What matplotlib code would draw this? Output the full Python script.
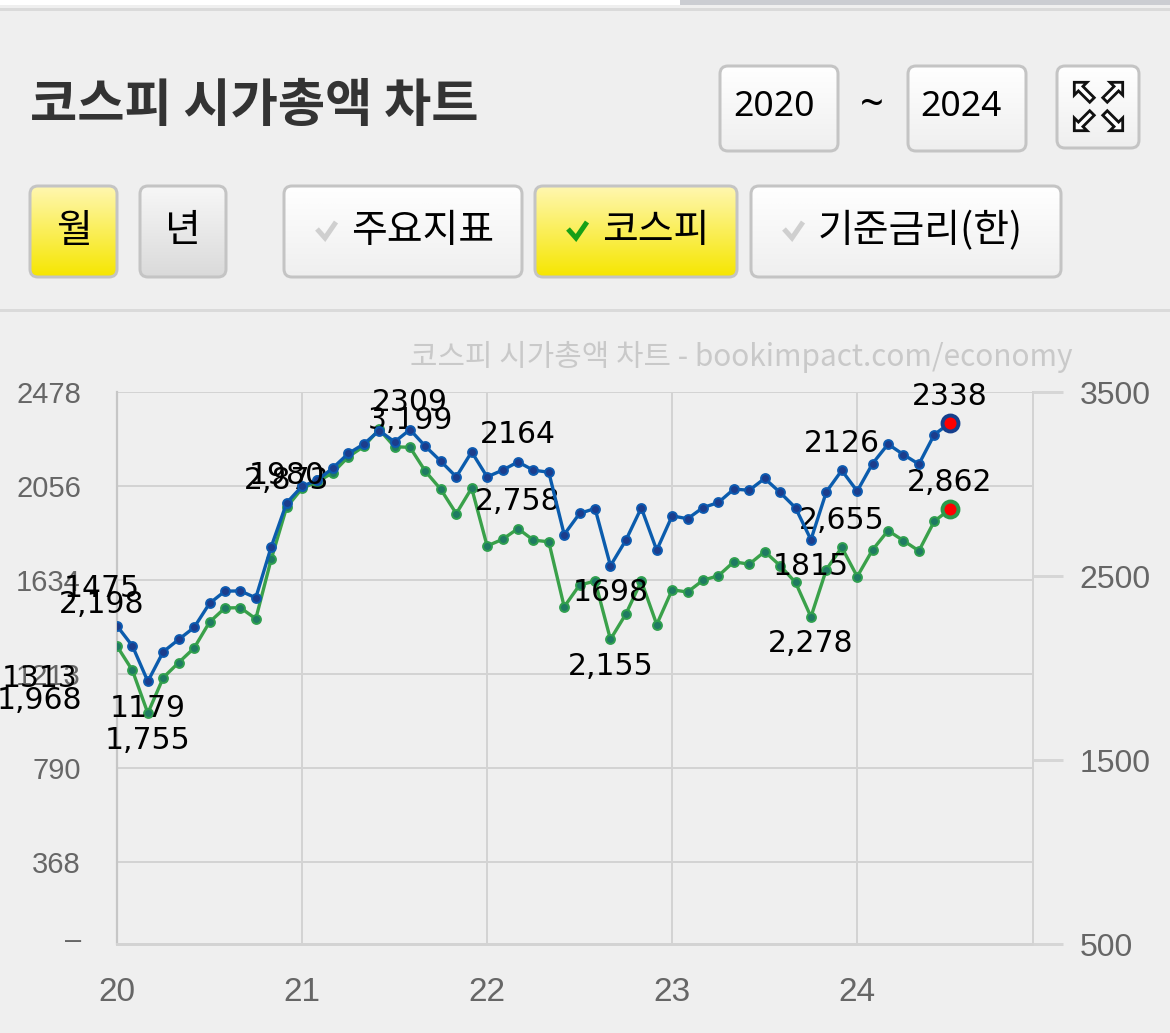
import numpy as np
import matplotlib
matplotlib.use('Agg')
import matplotlib.pyplot as plt
from matplotlib.patches import FancyBboxPatch, Rectangle, Polygon
from matplotlib.colors import to_rgb

# ---------------- data ----------------
year_labels = ['20', '21', '22', '23', '24']
year_ticks = [0, 12, 24, 36, 48]

# 시가총액 (조원), monthly 2020-01 .. 2024-07
cap = [1428, 1338, 1179, 1312, 1367, 1421, 1529, 1584, 1585, 1554, 1783, 1980,
       2055, 2082, 2137, 2202, 2244, 2305, 2254, 2309, 2234, 2167, 2097, 2209,
       2097, 2127, 2164, 2127, 2118, 1838, 1933, 1955, 1698, 1813, 1958, 1768,
       1922, 1909, 1959, 1982, 2042, 2037, 2090, 2027, 1958, 1815, 2030, 2126,
       2033, 2157, 2244, 2197, 2154, 2287, 2338]
# 코스피 지수
kospi = [2119.01, 1987.01, 1754.64, 1947.56, 2029.60, 2108.33, 2249.37, 2326.17, 2327.89, 2267.15, 2591.34, 2873.47,
         2976.21, 3012.95, 3061.42, 3147.86, 3203.92, 3296.68, 3202.32, 3199.27, 3068.82, 2970.68, 2839.01, 2977.65,
         2663.34, 2699.18, 2757.65, 2695.05, 2685.90, 2332.64, 2451.50, 2472.05, 2155.49, 2293.61, 2472.53, 2236.40,
         2425.08, 2412.85, 2476.86, 2501.53, 2577.12, 2564.28, 2632.58, 2556.27, 2465.07, 2277.99, 2535.29, 2655.28,
         2497.09, 2642.36, 2746.63, 2692.06, 2636.52, 2797.82, 2862]

left_ticks = [27, 368, 790, 1212, 1634, 2056, 2478]
left_ticklabels = ['–', '368', '790', '1213', '1634', '2056', '2478']
right_ticks = [500, 1500, 2500, 3500]

# yearly max/min labels (month index relative to 2020-01)
lab_months = [-5, -1, 2, 11, 19, 26, 32, 45, 47, 54]
lab_cap = [1313, 1475, 1179, 1980, 2309, 2164, 1698, 1815, 2126, 2338]
lab_kospi = [1968, 2198, 1755, 2873, 3199, 2758, 2155, 2278, 2655, 2862]
lab_kind = ['min', 'max', 'min', 'max', 'max', 'max', 'min', 'min', 'max', 'max']

title = '코스피 시가총액 차트'
watermark = '코스피 시가총액 차트 - bookimpact.com/economy'
period_buttons = ['월', '년']
series_buttons = ['주요지표', '코스피', '기준금리(한)']
year_from, year_to = '2020', '2024'

# ---------------- style ----------------
plt.rcParams['font.family'] = ['Liberation Sans', 'Noto Sans CJK KR', 'DejaVu Sans']
KR = ['Noto Sans CJK KR', 'DejaVu Sans']
BG = '#efefef'
W, H = 1170, 1033

fig = plt.figure(figsize=(W / 100, H / 100), dpi=100, facecolor=BG)
bg = fig.add_axes([0, 0, 1, 1])
bg.set_xlim(0, W)
bg.set_ylim(H, 0)
bg.axis('off')
bg.set_zorder(0)

PX = 0.72  # points per pixel


def gradient_box(x0, y0, x1, y1, top, bottom, edge='#c4c4c4', r=8, lw=3):
    patch = FancyBboxPatch((x0, y0), x1 - x0, y1 - y0,
                           boxstyle=f'round,pad=0,rounding_size={r}',
                           facecolor='none', edgecolor=edge, lw=lw * PX, zorder=3)
    bg.add_patch(patch)
    t = np.array(to_rgb(top))
    b = np.array(to_rgb(bottom))
    g = np.linspace(0, 1, 64)[:, None, None]
    img = t * (1 - g) + b * g
    img = np.repeat(img, 2, axis=1)
    im = bg.imshow(img, extent=(x0, x1, y1, y0), origin='upper', aspect='auto', zorder=2,
                   interpolation='bilinear')
    clip = FancyBboxPatch((x0, y0), x1 - x0, y1 - y0,
                          boxstyle=f'round,pad=0,rounding_size={r}',
                          facecolor='none', edgecolor='none', transform=bg.transData)
    im.set_clip_path(clip)
    return patch


# top strip
bg.add_patch(Rectangle((0, 0), W, 5, facecolor='white', edgecolor='none', zorder=1))
bg.add_patch(Rectangle((680, 0), W - 680, 5, facecolor='#cbcdd2', edgecolor='none', zorder=1))
bg.plot([0, W], [9, 9], color='#dadada', lw=3 * PX, zorder=1)
bg.plot([0, W], [310, 310], color='#dadada', lw=3 * PX, zorder=1)

# title
bg.text(30, 106, title, fontsize=37, fontweight='bold', color='#333333',
        ha='left', va='center', family=KR, zorder=4)

# year range boxes
WHITE_T, WHITE_B = '#ffffff', '#efefef'
YEL_T, YEL_B = '#fff7b0', '#f6e600'
GRAY_T, GRAY_B = '#f7f7f7', '#dadada'
gradient_box(720, 66, 838, 151, WHITE_T, WHITE_B)
bg.text(774, 107, year_from, fontsize=25.5, family=['Noto Sans', 'DejaVu Sans'], ha='center', va='center', zorder=4)
bg.text(872, 106, '~', fontsize=30, family=['Noto Sans', 'DejaVu Sans'], ha='center', va='center', zorder=4)
gradient_box(908, 66, 1026, 151, WHITE_T, WHITE_B)
bg.text(961, 107, year_to, fontsize=25.5, family=['Noto Sans', 'DejaVu Sans'], ha='center', va='center', zorder=4)
gradient_box(1057, 66, 1139, 148, WHITE_T, WHITE_B)

# expand icon: four outward arrows
shape = np.array([[0, -13], [-9, -4], [-3.2, -4], [-3.2, 12], [3.2, 12], [3.2, -4], [9, -4]])
cx, cy = 1098.5, 106.5
for dx, dy, ang in [(-15, -15, -45), (15, -15, 45), (-15, 15, -135), (15, 15, 135)]:
    th = np.deg2rad(ang)
    R = np.array([[np.cos(th), -np.sin(th)], [np.sin(th), np.cos(th)]])
    pts = shape @ R.T + np.array([cx + dx, cy + dy])
    bg.add_patch(Polygon(pts, closed=True, facecolor='white', edgecolor='#111111',
                         lw=2.8 * PX, joinstyle='miter', zorder=4))

# period buttons
gradient_box(30, 186, 117, 277, YEL_T, YEL_B)
bg.text(74, 231, period_buttons[0], fontsize=28, family=KR, ha='center', va='center', zorder=4)
gradient_box(140, 186, 226, 277, GRAY_T, GRAY_B)
bg.text(183, 231, period_buttons[1], fontsize=28, family=KR, ha='center', va='center', zorder=4)

# series buttons
btns = [(284, 522, WHITE_T, WHITE_B, '#cfcfcf'),
        (535, 737, YEL_T, YEL_B, '#17a017'),
        (751, 1061, WHITE_T, WHITE_B, '#cfcfcf')]
for (x0, x1, t, b, ck), label in zip(btns, series_buttons):
    gradient_box(x0, 186, x1, 277, t, b)
    bg.plot([x0 + 33, x0 + 41, x0 + 52], [229, 238, 222], color=ck, lw=5 * PX,
            solid_capstyle='butt', solid_joinstyle='miter', zorder=4)
    bg.text(x0 + 67, 231, label, fontsize=28, family=KR, ha='left', va='center', zorder=4)

# watermark
bg.text(741, 357, watermark, fontsize=21.5, family=KR, color='#c9c9c9',
        ha='center', va='center', zorder=4)

# ---------------- chart ----------------
rect = [117 / W, 1 - 944 / H, 916 / W, 552 / H]
ax = fig.add_axes(rect)
ax.set_zorder(1)
ax.set_facecolor('none')
ax.set_xlim(0, 59.4)
ax.set_ylim(0, 2478)
ax.set_yticks(left_ticks, left_ticklabels)
ax.set_xticks(year_ticks, year_labels)
ax.tick_params(axis='y', length=0, pad=26, labelsize=21, labelcolor='#666666')
ax.tick_params(axis='x', length=0, pad=24, labelsize=24, labelcolor='#666666')
ax.grid(True, color='#d3d3d3', lw=2 * PX)
ax.get_ygridlines()[0].set_visible(False)
ax.get_xgridlines()[0].set_visible(False)
ax.spines['top'].set_visible(False)
ax.spines['left'].set_color('#c6c6c6')
ax.spines['left'].set_linewidth(2.2 * PX)
ax.spines['bottom'].set_color('#d3d3d3')
ax.spines['bottom'].set_linewidth(3 * PX)
ax.spines['right'].set_color('#d3d3d3')
ax.spines['right'].set_linewidth(2 * PX)

# right axis (KOSPI)
ax2 = ax.twinx()
ax2.set_ylim(500, 3500)
ax2.set_yticks(right_ticks)
ax2.tick_params(axis='y', length=30 * PX, width=3 * PX, color='#d6d6d6', pad=12,
                labelsize=23, labelcolor='#666666')
for s in ax2.spines.values():
    s.set_visible(False)

# blue axis (same scale as left)
ax3 = ax.twinx()
ax3.set_ylim(0, 2478)
ax3.set_yticks([])
for s in ax3.spines.values():
    s.set_visible(False)

x = np.arange(len(cap))

ax2.plot(x, kospi, color='#3aa14a', lw=2.4, marker='o', markersize=6.4,
         mfc='#1f7a62', mec='#2f9f4f', mew=1.4, zorder=3)
ax2.plot(x[-1:], kospi[-1:], ls='none', marker='o', markersize=11.5,
         mfc='#ff0000', mec='#2a9a4a', mew=2.8, zorder=4)

ax3.plot(x, cap, color='#0b5cad', lw=2.4, marker='o', markersize=6.4,
         mfc='#1c3d8c', mec='#0d5ab0', mew=1.4, zorder=3)
ax3.plot(x[-1:], cap[-1:], ls='none', marker='o', markersize=11.5,
         mfc='#ff0000', mec='#163f8c', mew=2.8, zorder=4)

OFF = 27 * PX
for m, c, k, kind in zip(lab_months, lab_cap, lab_kospi, lab_kind):
    off = OFF if kind == 'max' else -OFF
    ax3.annotate(str(c), (m, c), xytext=(0, off), textcoords='offset points',
                 ha='center', va='center', fontsize=21.5, family=['DejaVu Sans'],
                 color='black', annotation_clip=False, zorder=5)
    ax2.annotate(f'{k:,}', (m, k), xytext=(0, off), textcoords='offset points',
                 ha='center', va='center', fontsize=21.5, family=['DejaVu Sans'],
                 color='black', annotation_clip=False, zorder=5)

fig.savefig('out.png', dpi=100, facecolor=BG)
